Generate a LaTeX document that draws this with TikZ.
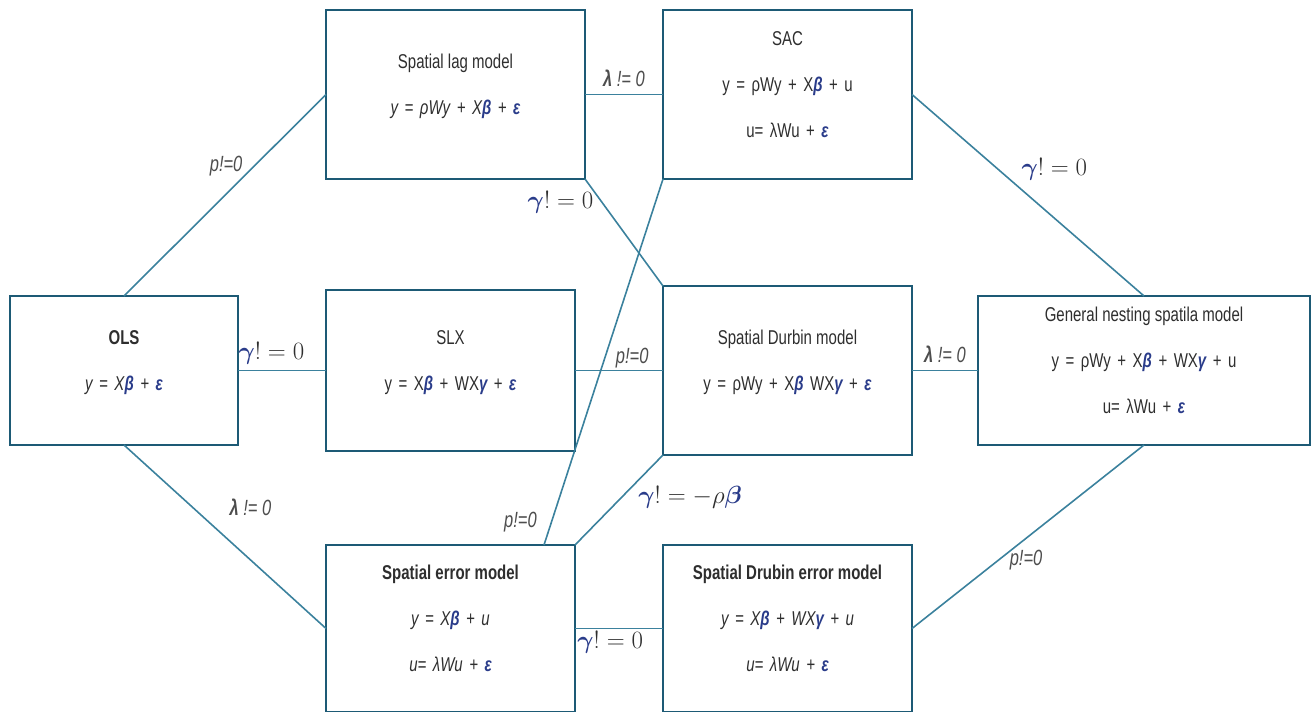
\documentclass[tikz,border=0pt]{standalone}
\usepackage{amsmath}
\usepackage{fontspec}
\setmainfont{Liberation Sans}[FakeStretch=0.75]
\usepackage{xcolor}
\usetikzlibrary{positioning}
\definecolor{modelframe}{HTML}{1D5A75}
\definecolor{modelline}{HTML}{3B819D}
\definecolor{modelblue}{HTML}{2A3C8A}
\definecolor{modeltext}{HTML}{2E2E2E}
\newcommand{\hl}[1]{\textcolor{modelblue}{\bfseries\itshape #1}}
\newcommand{\eq}[1]{{\spaceskip=6.5pt\relax #1}}
\newcommand{\mgam}{\textcolor{modelblue}{\boldsymbol{\gamma}}}

\begin{document}
\begin{tikzpicture}[
  x=1pt, y=-1pt,
  font=\fontsize{20pt}{46pt}\selectfont,
  model/.style={draw=modelframe, line width=2.7pt, align=center, text=modeltext,
                minimum width=249pt, minimum height=165pt, text depth=20pt,
                inner sep=0pt, outer sep=0pt},
  link/.style={draw=modelline, line width=1.6pt},
  cond/.style={font=\fontsize{22pt}{24pt}\selectfont\itshape, text=modeltext!85, inner sep=2pt},
  restr/.style={font=\fontsize{23pt}{25pt}\selectfont, text=modeltext, inner sep=2pt}
]
\useasboundingbox (0,0) rectangle (1312,712);

% models
\node[model, minimum width=228pt, minimum height=149pt] (ols) at (124,370.5)
  {\textbf{OLS}\\\textit{\eq{y = X\hl{β} + \hl{ε}}}};
\node[model, minimum height=161pt, right=88pt of ols] (slx)
  {SLX\\\eq{y = X\hl{β} + WX\hl{γ} + \hl{ε}}};
\node[model, minimum height=169pt, right=88pt of slx] (sdm)
  {Spatial Durbin model\\\eq{y = ρWy + X\hl{β} WX\hl{γ} + \hl{ε}}};
\node[model, minimum width=332pt, minimum height=149pt, right=66pt of sdm] (gns)
  {General nesting spatila model\\\eq{y = ρWy + X\hl{β} + WX\hl{γ} + u}\\\eq{u= λWu + \hl{ε}}};
\node[model, minimum width=259pt, minimum height=169pt,
      above=111pt of slx.north west, anchor=south west] (slm)
  {Spatial lag model\\\textit{\eq{y = ρWy + X\hl{β} + \hl{ε}}}};
\node[model, minimum height=169pt, right=78pt of slm] (sac)
  {SAC\\\eq{y = ρWy + X\hl{β} + u}\\\eq{u= λWu + \hl{ε}}};
\node[model, minimum height=167pt, below=94pt of slx] (sem)
  {\textbf{Spatial error model}\\\textit{\eq{y = X\hl{β} + u}}\\\textit{\eq{u= λWu + \hl{ε}}}};
\node[model, minimum height=167pt, right=88pt of sem] (sdem)
  {\textbf{Spatial Drubin error model}\\\textit{\eq{y = X\hl{β} + WX\hl{γ} + u}}\\\textit{\eq{u= λWu + \hl{ε}}}};

% restrictions
\draw[link] (ols.north) -- node[cond, pos=0.6, anchor=south east, yshift=-4pt] (c1) {p!=0} (slm.west);
\draw[link] (ols.east) -- node[restr, pos=0.38, above, yshift=3pt] (c2) {$\mgam! = 0$} (slx.west);
\draw[link] (ols.south) -- node[cond, pos=0.4, above right, xshift=22pt] (c3) {\textbf{λ} != 0} (sem.west);
\draw[link] (slm.east) -- node[cond, above, yshift=5pt] (c4) {\textbf{λ} != 0} (sac.west);
\draw[link] (slm.south east) -- node[restr, pos=0.22, anchor=east, xshift=-6pt] (c5) {$\mgam! = 0$} (sdm.north west);
\draw[link] (sac.south west) -- node[cond, pos=0.937, anchor=east, xshift=-12pt] (c6) {p!=0} ([xshift=-31pt]sem.north east);
\draw[link] (sac.east) -- node[restr, pos=0.46, anchor=south west, yshift=4pt] (c7) {$\mgam! = 0$} (gns.north);
\draw[link] (slx.east) -- node[cond, pos=0.65, above] (c8) {p!=0} (sdm.west);
\draw[link] (sdm.east) -- node[cond, above, yshift=5pt] (c9) {\textbf{λ} != 0} (gns.west);
\draw[link] (sdm.south west) -- node[restr, pos=0.47, anchor=west, xshift=14pt, font=\fontsize{25pt}{27pt}\selectfont] (c10)
  {$\mgam! = -\rho\textcolor{modelblue}{\boldsymbol{\beta}}$} (sem.north east);
\draw[link] (sem.east) -- node[restr, pos=0.4, below] (c11) {$\mgam! = 0$} (sdem.west);
\draw[link] (sdem.east) -- node[cond, pos=0.375, anchor=west, xshift=8pt] (c12) {p!=0} (gns.south);
\end{tikzpicture}
\end{document}
